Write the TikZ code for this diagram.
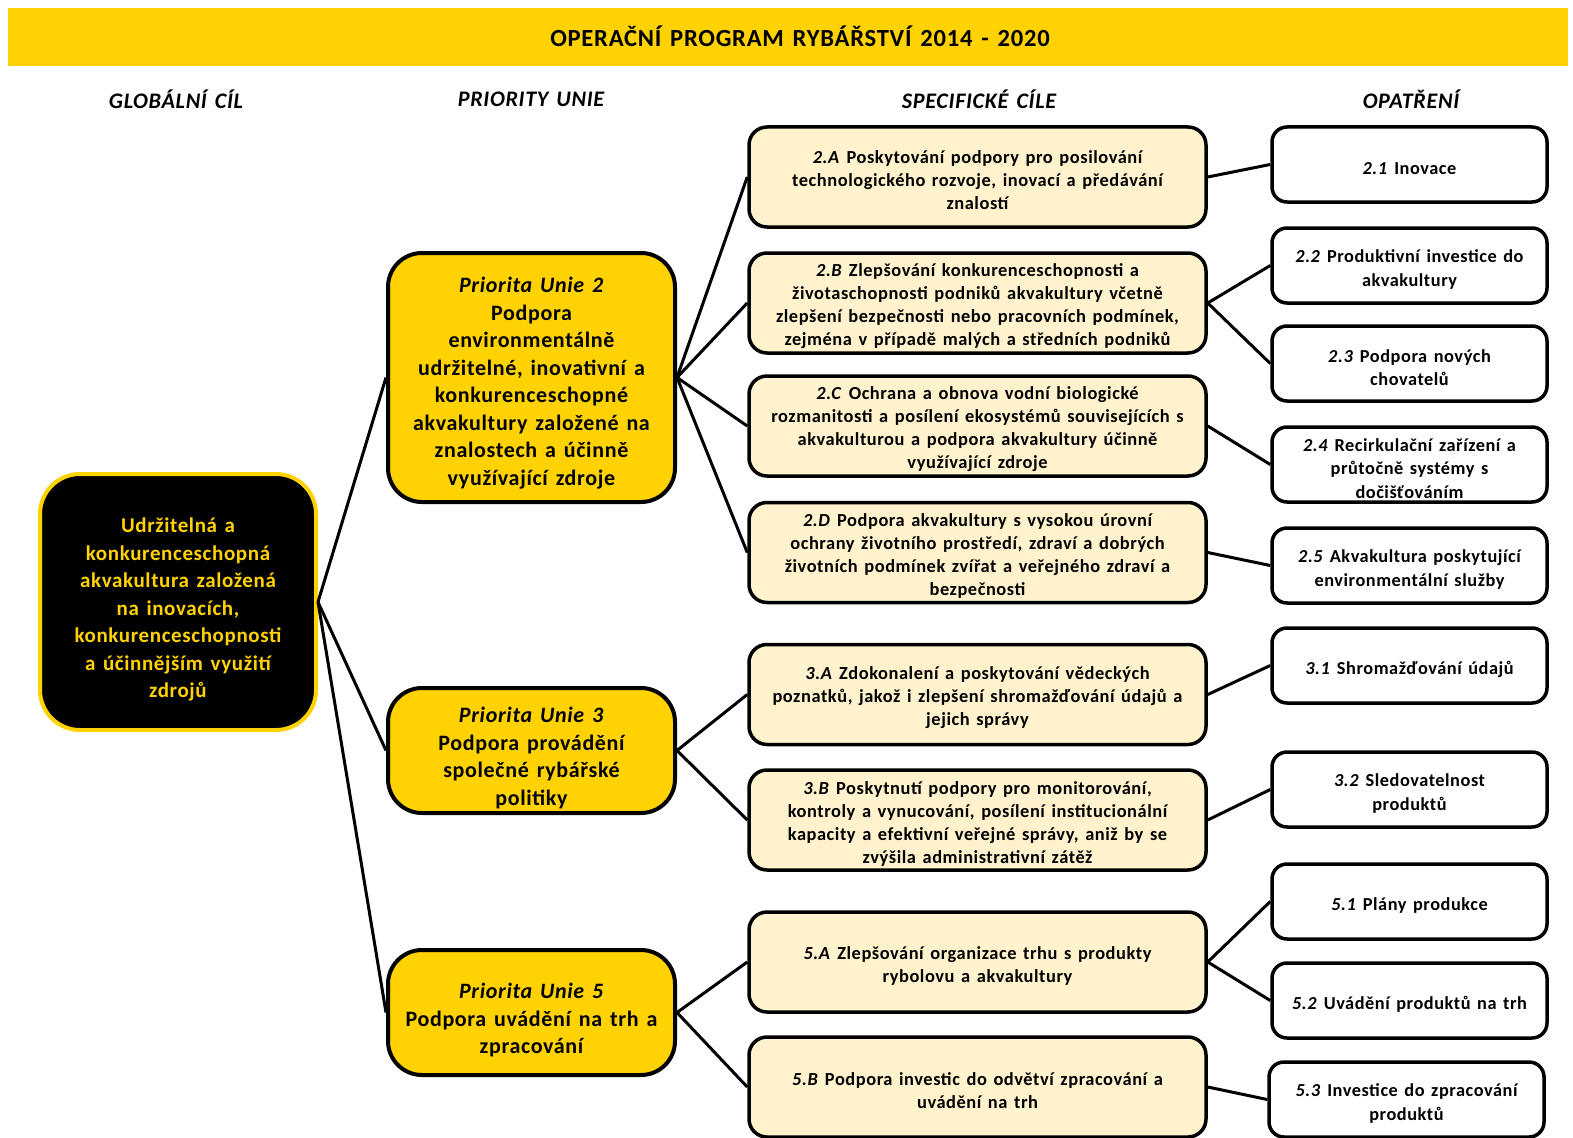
\documentclass[tikz,border=0pt]{standalone}
\usepackage{fontspec}
\setmainfont{Carlito}[LetterSpace=3,WordSpace=1.4]
\usepackage{tikz}
\usetikzlibrary{positioning}
\usepackage{xcolor}
\definecolor{opgold}{RGB}{255,210,0}
\definecolor{cilyellow}{RGB}{255,242,204}

% first-line strut, so text sits a bit lower in its box
\newcommand{\padtop}[1]{\rule{0pt}{#1}}

\tikzset{
  titletext/.style={font=\fontsize{24.6}{27}\selectfont\bfseries},
  colhead/.style={font=\fontsize{22.2}{24}\selectfont\bfseries\itshape},
  goalbox/.style={draw=opgold,fill=black,text=opgold,line width=4pt,rounded corners=40pt,
    minimum width=276pt,minimum height=256pt,align=center,
    font=\fontsize{21}{27.5}\selectfont\bfseries},
  prioritybox/.style={draw=black,fill=opgold,line width=4pt,rounded corners=34pt,
    minimum width=287pt,align=center,
    font=\fontsize{22}{27.5}\selectfont\bfseries},
  cilbox/.style={draw=black,fill=cilyellow,line width=3.5pt,rounded corners=18pt,
    minimum width=457pt,minimum height=100pt,align=center,
    font=\fontsize{18.4}{23}\selectfont\bfseries},
  measurebox/.style={draw=black,fill=white,line width=3.5pt,rounded corners=15pt,
    minimum width=275pt,minimum height=75pt,align=center,
    font=\fontsize{18.3}{23.5}\selectfont\bfseries},
  link/.style={line width=3pt}
}

\begin{document}
\begin{tikzpicture}[x=1pt,y=-1pt]
    \useasboundingbox (0,0) rectangle (1573,1137);
    \clip (0,0) rectangle (1573,1137);
    % Title bar and column headings
    \fill[opgold] (8,8) rectangle (1568,66);
    \node[titletext] (title) at (800,36) {OPERAČNÍ PROGRAM RYBÁŘSTVÍ 2014 - 2020};
    \node[colhead] (hgoal) at (176,99) {GLOBÁLNÍ CÍL};
    \node[colhead] (hprio) at (531,99) {PRIORITY UNIE};
    \node[colhead] (hcil) at (979,99) {SPECIFICKÉ CÍLE};
    \node[colhead] (hmeas) at (1411,99) {OPATŘENÍ};
    % Global goal
    \node[goalbox] (goal) at (178,602) {\padtop{30pt}Udržitelná a\\konkurenceschopná\\akvakultura založená\\na inovacích,\\konkurenceschopnosti\\a účinnějším využití\\zdrojů};
    % Union priorities
    \node[prioritybox,minimum height=249pt] (p2) at (531.5,377.5) {\padtop{27pt}\textit{Priorita Unie 2}\\Podpora\\environmentálně\\udržitelné, inovativní a\\konkurenceschopné\\akvakultury založené na\\znalostech a účinně\\využívající zdroje};
    \node[prioritybox,minimum height=125pt] (p3) at (531.5,750.5) {\padtop{30pt}\textit{Priorita Unie 3}\\Podpora provádění\\společné rybářské\\politiky};
    \node[prioritybox,minimum height=125pt] (p5) at (531.5,1012.5) {\padtop{31pt}\textit{Priorita Unie 5}\\Podpora uvádění na trh a\\zpracování};
    % Specific goals
    \foreach \name/\y/\txt in {
      c2A/177/{\textit{2.A} Poskytování podpory pro posilování\\technologického rozvoje, inovací a předávání\\znalostí},
      c2B/303/{\textit{2.B} Zlepšování konkurenceschopnosti a\\životaschopnosti podniků akvakultury včetně\\zlepšení bezpečnosti nebo pracovních podmínek,\\zejména v případě malých a středních podniků},
      c2C/426/{\textit{2.C} Ochrana a obnova vodní biologické\\rozmanitosti a posílení ekosystémů souvisejících s\\akvakulturou a podpora akvakultury účinně\\využívající zdroje},
      c2D/552.5/{\textit{2.D} Podpora akvakultury s vysokou úrovní\\ochrany životního prostředí, zdraví a dobrých\\životních podmínek zvířat a veřejného zdraví a\\bezpečnosti},
      c3A/694.5/{\textit{3.A} Zdokonalení a poskytování vědeckých\\poznatků, jakož i zlepšení shromažďování údajů a\\jejich správy},
      c3B/820/{\textit{3.B} Poskytnutí podpory pro monitorování,\\kontroly a vynucování, posílení institucionální\\kapacity a efektivní veřejné správy, aniž by se\\zvýšila administrativní zátěž},
      c5A/962/{\textit{5.A} Zlepšování organizace trhu s produkty\\rybolovu a akvakultury},
      c5B/1087/{\textit{5.B} Podpora investic do odvětví zpracování a\\uvádění na trh}} {
      \node[cilbox] (\name) at (977.5,\y) {\padtop{20pt}\txt};
    }
    % Measures
    \foreach \name/\x/\y/\txt in {
      m21/1409.5/164.5/{\textit{2.1} Inovace},
      m22/1409.5/265.5/{\textit{2.2} Produktivní investice do\\akvakultury},
      m23/1409.5/363.5/{\textit{2.3} Podpora nových\\chovatelů},
      m24/1409.5/464.5/{\textit{2.4} Recirkulační zařízení a\\průtočně systémy s\\dočišťováním},
      m25/1409.5/565.5/{\textit{2.5} Akvakultura poskytující\\environmentální služby},
      m31/1409.5/665.5/{\textit{3.1} Shromažďování údajů},
      m32/1409.5/789.5/{\textit{3.2} Sledovatelnost\\produktů},
      m51/1409.5/901.5/{\textit{5.1} Plány produkce},
      m52/1409.5/1000.5/{\textit{5.2} Uvádění produktů na trh},
      m53/1406.5/1099.5/{\textit{5.3} Investice do zpracování\\produktů}} {
      \node[measurebox] (\name) at (\x,\y) {\padtop{21pt}\txt};
    }
    % Connectors
    \foreach \a/\b in {goal/p2,goal/p3,goal/p5,
      p2/c2A,p2/c2B,p2/c2C,p2/c2D,p3/c3A,p3/c3B,p5/c5A,p5/c5B,
      c2A/m21,c2B/m22,c2B/m23,c2C/m24,c2D/m25,c3A/m31,c3B/m32,c5A/m51,c5A/m52,c5B/m53}
      \draw[link] (\a.east) -- (\b.west);
  \end{tikzpicture}
\end{document}
